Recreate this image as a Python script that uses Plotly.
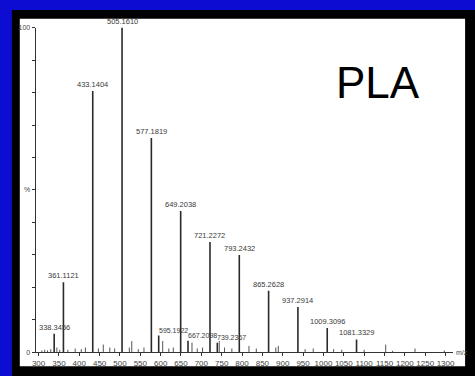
import plotly.graph_objects as go

# Labelled peaks of the PLA mass spectrum (m/z, relative intensity %)
label_mz = [338.3456, 361.1121, 433.1404, 505.1610, 577.1819, 595.1922, 649.2038,
            667.2098, 721.2272, 739.2367, 793.2432, 865.2628, 937.2914, 1009.3096,
            1081.3329]
label_int = [5.7, 21.6, 80.5, 100.0, 66.0, 5.2, 43.5, 3.6, 34.0, 3.0, 30.0, 19.0,
             14.0, 7.5, 4.0]

# Smaller unlabelled peaks
minor_mz = [308, 315, 322, 330, 345, 352, 372, 390, 405, 415, 447, 459, 475, 487,
            523, 529, 545, 559, 605, 620, 631, 677, 690, 703, 744, 757, 775, 817,
            835, 883, 889, 955, 975, 1025, 1045, 1100, 1153, 1170, 1225, 1297]
minor_int = [0.6, 0.8, 0.6, 1.0, 1.5, 0.8, 0.8, 1.2, 1.0, 1.5, 1.2, 2.4, 1.5, 1.2,
             1.5, 3.5, 1.0, 1.5, 3.5, 1.2, 1.5, 3.0, 1.2, 1.5, 3.5, 1.5, 1.2, 2.0,
             1.2, 1.5, 2.0, 1.0, 1.2, 1.0, 0.8, 0.8, 2.4, 0.5, 1.2, 0.6]

x_ticks = list(range(300, 1301, 50))
y_ticks = list(range(0, 101, 10))
y_ticktext = ["0", "", "", "", "", "%", "", "", "", "", "100"]

W, H = 475, 376
LABEL_FONT = "Liberation Sans, Arial"
SMALL_FONT = "Liberation Sans Narrow, Liberation Sans, Arial"


def px(x):
    return x / W


def py(y):
    return 1 - y / H


def sticks(mz, inten):
    xs, ys = [], []
    for m, v in zip(mz, inten):
        xs += [m, m, None]
        ys += [0, v, None]
    return xs, ys


fig = go.Figure()

mx, my = sticks(minor_mz, minor_int)
fig.add_trace(go.Scatter(x=mx, y=my, mode="lines",
                         line=dict(color="#555555", width=1), hoverinfo="skip"))
lx, ly = sticks(label_mz, label_int)
fig.add_trace(go.Scatter(x=lx, y=ly, mode="lines",
                         line=dict(color="#2a2a2a", width=1.6), hoverinfo="skip"))

# Peak labels; the crowded small ones start at their peak and run to the right
crowded = {595.1922, 667.2098, 739.2367}
for m, v in zip(label_mz, label_int):
    fig.add_annotation(x=m, y=v, text=f"{m:.4f}", showarrow=False,
                       xanchor="left" if m in crowded else "center",
                       xshift=-2 if m in crowded else 0,
                       yanchor="bottom", yshift=0,
                       font=dict(family=LABEL_FONT,
                                 size=7 if m in crowded else 7.5,
                                 color="#3a3a3a"))

# m/z axis title at the end of the axis
fig.add_annotation(xref="paper", yref="paper", x=px(456), y=py(355),
                   text="m/z", showarrow=False, xanchor="left", yanchor="middle",
                   font=dict(family=SMALL_FONT, size=7, color="#444"))

# Title
fig.add_annotation(xref="paper", yref="paper", x=px(379), y=py(80),
                   text="PLA", showarrow=False, xanchor="center", yanchor="middle",
                   font=dict(family="Liberation Sans, Arial", size=44, color="#000"))

fig.update_layout(
    width=W, height=H,
    margin=dict(l=0, r=0, t=0, b=0),
    paper_bgcolor="#0c0cd2",
    plot_bgcolor="rgba(0,0,0,0)",
    showlegend=False,
    shapes=[
        dict(type="rect", xref="paper", yref="paper", x0=px(8), x1=1.01,
             y0=-0.01, y1=py(6), fillcolor="#000", line=dict(width=0),
             layer="below"),
        dict(type="rect", xref="paper", yref="paper", x0=px(16), x1=px(467),
             y0=py(369), y1=py(15), fillcolor="#fff", line=dict(width=0),
             layer="below"),
    ],
    xaxis=dict(domain=[px(32), px(455)], range=[292.7, 1319],
               showline=True, linecolor="#333", linewidth=1,
               ticks="outside", ticklen=3, tickcolor="#333",
               tickvals=x_ticks, tickangle=0,
               tickfont=dict(family=SMALL_FONT, size=8, color="#444"),
               showgrid=False, zeroline=False, fixedrange=True),
    yaxis=dict(domain=[py(355), py(24)], range=[0, 100],
               showline=True, linecolor="#333", linewidth=1,
               ticks="outside", ticklen=3, tickcolor="#333",
               tickvals=y_ticks, ticktext=y_ticktext,
               tickfont=dict(family=SMALL_FONT, size=7, color="#444"),
               showgrid=False, zeroline=False, fixedrange=True),
)

fig.write_html("out.html")
